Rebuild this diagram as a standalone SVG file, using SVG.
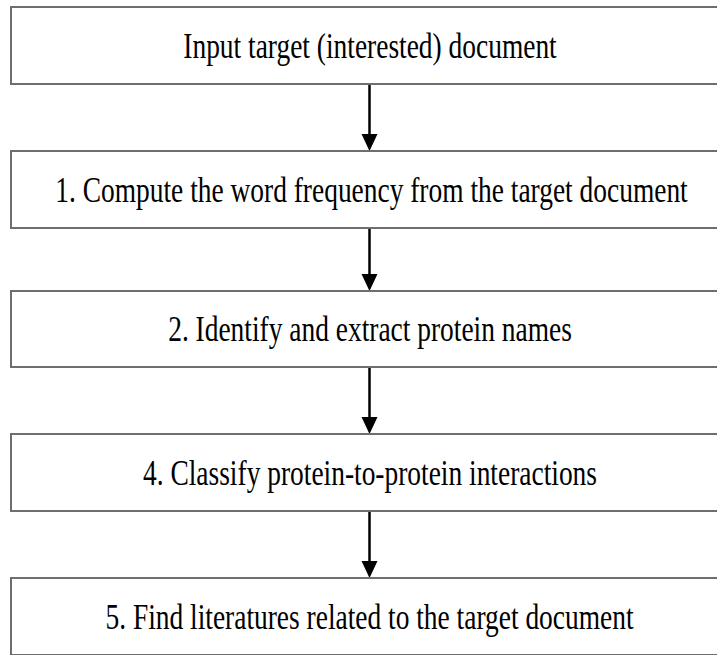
<svg xmlns="http://www.w3.org/2000/svg" width="717" height="655" viewBox="0 0 717 655">
  <defs>
    <style>
      .box { fill: #fff; stroke: #6e6e6e; stroke-width: 2; }
      .label { font-family: "Liberation Serif", "Times New Roman", serif; font-size: 36px; fill: #000; text-anchor: middle; }
      .conn { stroke: #000; stroke-width: 2.5; fill: none; }
      .head { fill: #000; }
    </style>
  </defs>
  <rect width="717" height="655" fill="#fff"/>
  <g id="connectors">
    <line class="conn" x1="369.5" y1="84" x2="369.5" y2="136"/>
    <path class="head" d="M361.5,134 L377.5,134 L369.5,151 Z"/>
    <line class="conn" x1="369.5" y1="228" x2="369.5" y2="276"/>
    <path class="head" d="M361.5,274 L377.5,274 L369.5,291 Z"/>
    <line class="conn" x1="369.5" y1="367" x2="369.5" y2="419"/>
    <path class="head" d="M361.5,417 L377.5,417 L369.5,434 Z"/>
    <line class="conn" x1="369.5" y1="511" x2="369.5" y2="563"/>
    <path class="head" d="M361.5,561 L377.5,561 L369.5,578 Z"/>
  </g>
  <g id="node-input">
    <rect class="box" x="11" y="7" width="720" height="77"/>
    <text class="label" transform="translate(370,58) scale(0.762,1)">Input target (interested) document</text>
  </g>
  <g id="node-1">
    <rect class="box" x="11" y="151" width="720" height="77"/>
    <text class="label" transform="translate(371.5,202) scale(0.762,1)">1. Compute the word frequency from the target document</text>
  </g>
  <g id="node-2">
    <rect class="box" x="11" y="291" width="720" height="76"/>
    <text class="label" transform="translate(370,341) scale(0.762,1)">2. Identify and extract protein names</text>
  </g>
  <g id="node-4">
    <rect class="box" x="11" y="434" width="720" height="77"/>
    <text class="label" transform="translate(370,485) scale(0.762,1)">4. Classify protein-to-protein interactions</text>
  </g>
  <g id="node-5">
    <rect class="box" x="11" y="578" width="720" height="77"/>
    <text class="label" transform="translate(369.5,629) scale(0.762,1)">5. Find literatures related to the target document</text>
  </g>
</svg>
